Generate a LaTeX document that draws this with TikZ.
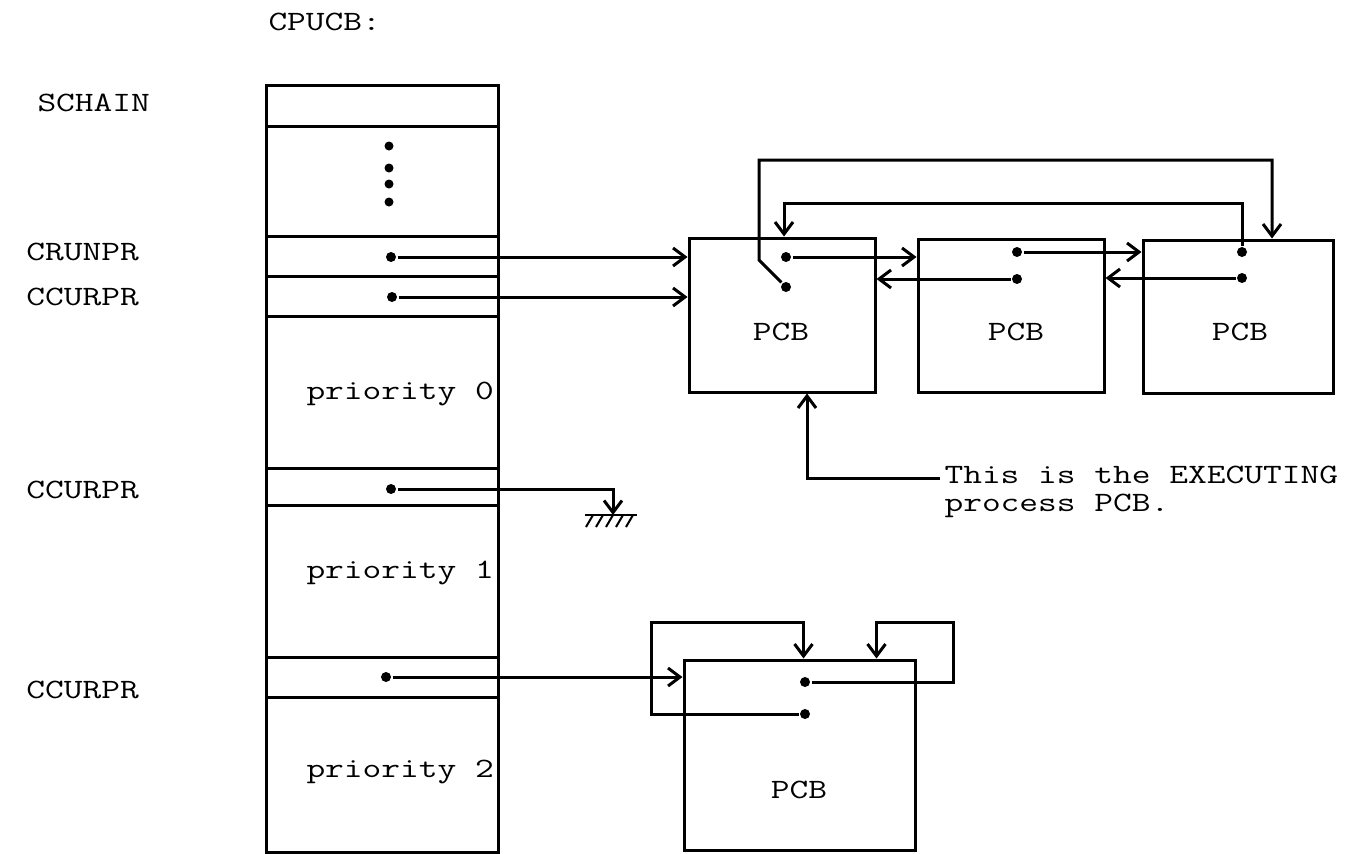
\documentclass[tikz,border=0pt]{standalone}
\usepackage{graphicx}
\usetikzlibrary{arrows.meta}
\newcommand{\tw}[1]{\scalebox{1.3}[1]{#1}}
\begin{document}
\begin{tikzpicture}[x=1pt,y=-1pt, line width=3pt,
  >={Straight Barb[length=12pt,width=18pt]},
  box/.style={draw, inner sep=0pt, line width=3pt},
  dot/.style={circle, fill, inner sep=0pt, minimum size=10pt},
  sdot/.style={circle, fill, inner sep=0pt, minimum size=9pt},
  lbl/.style={font=\ttfamily\fontsize{28}{28}\selectfont, inner sep=0pt},
  hatch/.style={line width=2pt}
  ]
\useasboundingbox[fill=white] (0,0) rectangle (1363,854);

% ---- CPUCB column ----
\node[box, anchor=north west, minimum width=232pt, minimum height=767pt] (col) at (265,84) {};
\foreach \yy in {126,236,276,316,468,505,657,697}
  \draw (col.west |- 0,\yy) -- (col.east |- 0,\yy);
\foreach \yy [count=\i] in {146,168,184,202}
  \node[sdot] (e\i) at (389,\yy) {};

% ---- labels ----
\node[lbl, anchor=west] (lcpucb) at (267,22) {\tw{CPUCB:}};
\node[lbl, anchor=west] (lschain) at (36,103) {\tw{SCHAIN}};
\node[lbl, anchor=west] (lcrun) at (25,252) {\tw{CRUNPR}};
\node[lbl, anchor=west] (lccur0) at (25,297) {\tw{CCURPR}};
\node[lbl, anchor=west] (lccur1) at (25,490) {\tw{CCURPR}};
\node[lbl, anchor=west] (lccur2) at (25,690) {\tw{CCURPR}};
\node[lbl, anchor=west] (lpr0) at (305,394) {\tw{priority 0}};
\node[lbl, anchor=west] (lpr1) at (305,573) {\tw{priority 1}};
\node[lbl, anchor=west] (lpr2) at (305,772) {\tw{priority 2}};

% ---- pointer dots in column ----
\node[dot] (a1) at (391,257) {};
\node[dot] (a2) at (392,297) {};
\node[dot] (a3) at (391,489) {};
\node[dot] (a4) at (386,677) {};

% ---- PCBs ----
\node[box, minimum width=186pt, minimum height=154pt] (p1) at (782,315) {};
\node[box, minimum width=186pt, minimum height=153pt] (p2) at (1011,315.5) {};
\node[box, minimum width=190pt, minimum height=153pt] (p3) at (1238,316.5) {};
\node[box, minimum width=231pt, minimum height=190pt] (p4) at (799.5,755) {};
\node[lbl] (t1) at (781,332) {\tw{PCB}};
\node[lbl] (t2) at (1016,332) {\tw{PCB}};
\node[lbl] (t3) at (1240,332) {\tw{PCB}};
\node[lbl] (t4) at (799,790) {\tw{PCB}};

\node[dot] (d11) at (786,257) {};
\node[dot] (d12) at (786,287) {};
\node[dot] (d21) at (1017,252) {};
\node[dot] (d22) at (1017,279) {};
\node[dot] (d31) at (1242,252) {};
\node[dot] (d32) at (1242,278) {};
\node[dot] (d41) at (805,682) {};
\node[dot] (d42) at (805,714) {};

% ---- CPUCB pointers ----
\draw[->] (a1) -- (a1 -| p1.west);
\draw[->] (a2) -- (a2 -| p1.west);
\draw[->] (a4) -- (a4 -| p4.west);

% ---- ground ----
\coordinate (g) at (613,515);
\draw[->] (a3) -| (g);
\draw[hatch] (585,515) -- (637,515);
\foreach \xx in {593,603,613,623,633}
  \draw[hatch] (\xx,515) -- (\xx-7,527);

% ---- chain among PCBs ----
\draw[->] (d11) -- (d11 -| p2.west);
\draw[->] (d21) -- (d21 -| p3.west);
\draw[->] (d32) -- (d32 -| p2.east);
\draw[->] (d22) -- (d22 -| p1.east);

\coordinate (o1) at (759,260);
\coordinate (o2) at (759,160);
\coordinate (o3) at (1272,160);
\draw[->] (d12) -- (o1) -- (o2) -- (o3) -- (o3 |- p3.north);

\coordinate (i1) at (1242,203);
\coordinate (i2) at (784,203);
\draw[->] (d31) -- (i1) -- (i2) -- (i2 |- p1.north);

% ---- executing note ----
\node[lbl, anchor=north west, align=left] (ex) at (943,465) {\tw{This is the EXECUTING}\\\tw{process PCB.}};
\coordinate (ex0) at (807,478);
\draw[->] (ex.west |- ex0) ++(-3pt,0) -- (ex0) -- (ex0 |- p1.south);

% ---- priority 2 PCB loops ----
\coordinate (r1) at (953,622);
\coordinate (l1) at (651,622);
\draw[->] (d41) -| (r1) -| ([xshift=77pt]p4.north);
\draw[->] (d42) -| (l1) -| ([xshift=4pt]p4.north);
\end{tikzpicture}
\end{document}
